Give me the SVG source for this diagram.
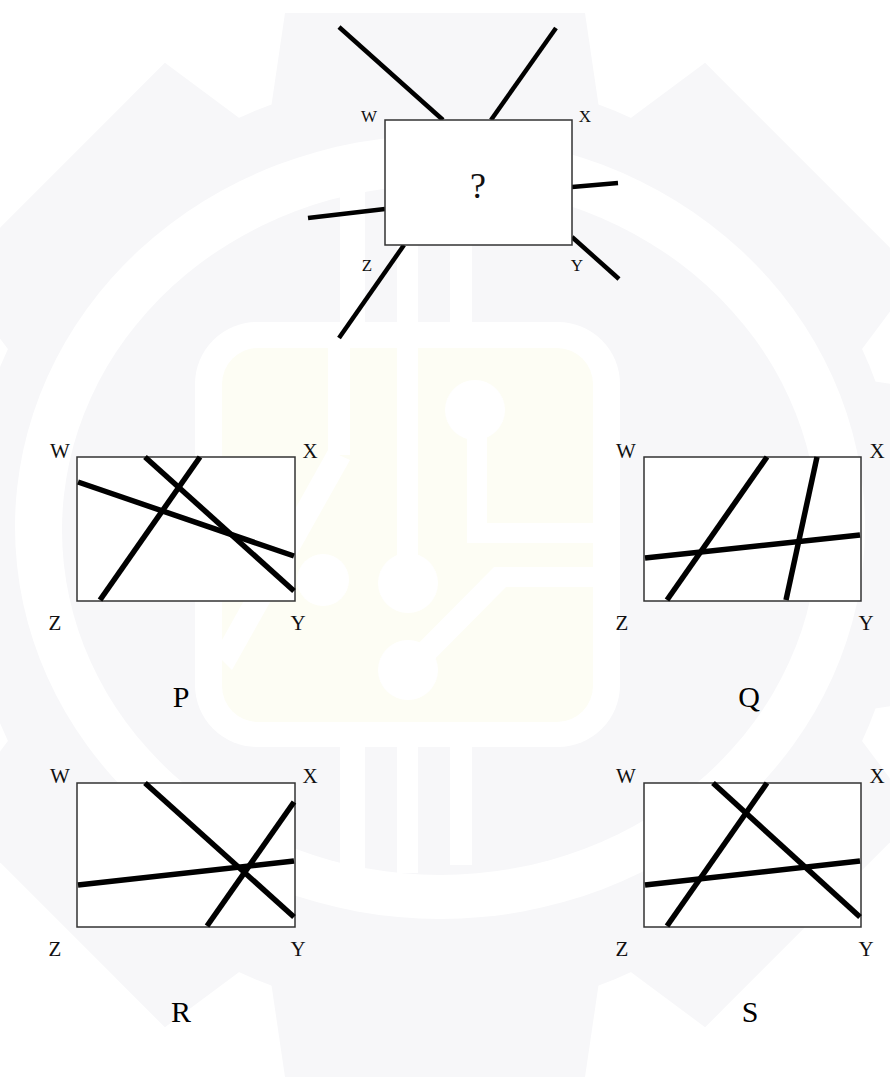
<svg xmlns="http://www.w3.org/2000/svg" width="890" height="1080" viewBox="0 0 890 1080">
<style>
.wm{fill:#f7f7f9}
.wy{fill:#fdfdf4}
.ww{fill:#ffffff}
.box{fill:#ffffff;stroke:#333333;stroke-width:1.5}
.ln{stroke:#000000;stroke-width:5.5;fill:none}
.lt{stroke:#000000;stroke-width:4.5;fill:none}
.lb{font-family:"Liberation Serif","Times New Roman",serif;font-size:21px;fill:#111111;text-anchor:middle}
.ls{font-family:"Liberation Serif","Times New Roman",serif;font-size:17px;fill:#111111;text-anchor:middle}
.big{font-family:"Liberation Serif","Times New Roman",serif;font-size:30px;fill:#000000;text-anchor:middle}
.q{font-family:"Liberation Serif","Times New Roman",serif;font-size:36px;fill:#111111;text-anchor:middle}
</style>
<defs>
<polygon id="tooth" points="-165,-430 -150,-532 150,-532 165,-430"/>
</defs>
<rect width="890" height="1080" fill="#ffffff"/>
<g id="watermark">
<g class="wm" transform="translate(435,545)">
<circle r="470"/>
<use href="#tooth"/>
<use href="#tooth" transform="rotate(45)"/>
<use href="#tooth" transform="rotate(90)"/>
<use href="#tooth" transform="rotate(135)"/>
<use href="#tooth" transform="rotate(180)"/>
<use href="#tooth" transform="rotate(225)"/>
<use href="#tooth" transform="rotate(270)"/>
<use href="#tooth" transform="rotate(315)"/>
</g>
<ellipse class="ww" cx="440" cy="527" rx="425" ry="392"/>
<ellipse class="wm" cx="440" cy="530" rx="378" ry="345"/>
<rect class="ww" x="340" y="185" width="25" height="140"/>
<rect class="ww" x="397" y="185" width="21" height="140"/>
<rect class="ww" x="450" y="185" width="22" height="140"/>
<rect class="ww" x="340" y="735" width="25" height="138"/>
<rect class="ww" x="397" y="735" width="21" height="138"/>
<rect class="ww" x="450" y="735" width="22" height="130"/>
<rect class="ww" x="195" y="322" width="425" height="425" rx="62"/>
<rect class="wy" x="222" y="348" width="371" height="374" rx="36"/>
<g class="ww">
<rect x="397" y="340" width="21" height="245"/>
<circle cx="408" cy="583" r="30"/>
<circle cx="475" cy="410" r="30"/>
<rect x="467" y="410" width="20" height="133"/>
<rect x="467" y="523" width="126" height="20"/>
<circle cx="408" cy="670" r="30"/>
<polygon points="400,662 494,567 593,567 593,587 506,587 416,678"/>
<rect x="328" y="340" width="22" height="115"/>
<polygon points="328,450 350,460 232,670 222,660 222,640"/>
<circle cx="323" cy="580" r="26"/>
</g>
</g>
<g id="connectors">
<g id="top-lines">
<line class="lt" x1="339" y1="27" x2="443" y2="120"/>
<line class="lt" x1="556" y1="28" x2="491" y2="120"/>
<line class="lt" x1="572" y1="187" x2="618" y2="183"/>
<line class="lt" x1="308" y1="218" x2="385" y2="209"/>
<line class="lt" x1="404" y1="245" x2="339" y2="338"/>
<line class="lt" x1="572" y1="237" x2="619" y2="279"/>
</g>
</g>
<g id="question">
<rect class="box" x="385" y="120" width="187" height="125"/>
<text class="q" x="478" y="198">?</text>
<text class="ls" x="369" y="122">W</text>
<text class="ls" x="585" y="122">X</text>
<text class="ls" x="367" y="271">Z</text>
<text class="ls" x="577" y="271">Y</text>
</g>
<g id="option-P">
<rect class="box" x="77" y="457" width="218" height="144"/>
<line class="ln" x1="78" y1="482" x2="294" y2="556"/>
<line class="ln" x1="145" y1="457" x2="294" y2="591"/>
<line class="ln" x1="200" y1="457" x2="100" y2="600"/>
<text class="lb" x="60" y="458">W</text>
<text class="lb" x="310" y="458">X</text>
<text class="lb" x="55" y="630">Z</text>
<text class="lb" x="298" y="630">Y</text>
<text class="big" x="181" y="707">P</text>
</g>
<g id="option-Q">
<rect class="box" x="644" y="457" width="217" height="144"/>
<line class="ln" x1="645" y1="558" x2="860" y2="535"/>
<line class="ln" x1="767" y1="457" x2="667" y2="600"/>
<line class="ln" x1="817" y1="457" x2="786" y2="600"/>
<text class="lb" x="626" y="458">W</text>
<text class="lb" x="877" y="458">X</text>
<text class="lb" x="622" y="630">Z</text>
<text class="lb" x="866" y="630">Y</text>
<text class="big" x="749" y="707">Q</text>
</g>
<g id="option-R">
<rect class="box" x="77" y="783" width="218" height="144"/>
<line class="ln" x1="78" y1="885" x2="294" y2="861"/>
<line class="ln" x1="145" y1="783" x2="294" y2="917"/>
<line class="ln" x1="294" y1="802" x2="207" y2="926"/>
<text class="lb" x="60" y="783">W</text>
<text class="lb" x="310" y="783">X</text>
<text class="lb" x="55" y="956">Z</text>
<text class="lb" x="298" y="956">Y</text>
<text class="big" x="181" y="1022">R</text>
</g>
<g id="option-S">
<rect class="box" x="644" y="783" width="217" height="144"/>
<line class="ln" x1="645" y1="885" x2="860" y2="861"/>
<line class="ln" x1="713" y1="783" x2="860" y2="917"/>
<line class="ln" x1="767" y1="783" x2="667" y2="926"/>
<text class="lb" x="626" y="783">W</text>
<text class="lb" x="877" y="783">X</text>
<text class="lb" x="622" y="956">Z</text>
<text class="lb" x="866" y="956">Y</text>
<text class="big" x="750" y="1022">S</text>
</g>
</svg>
